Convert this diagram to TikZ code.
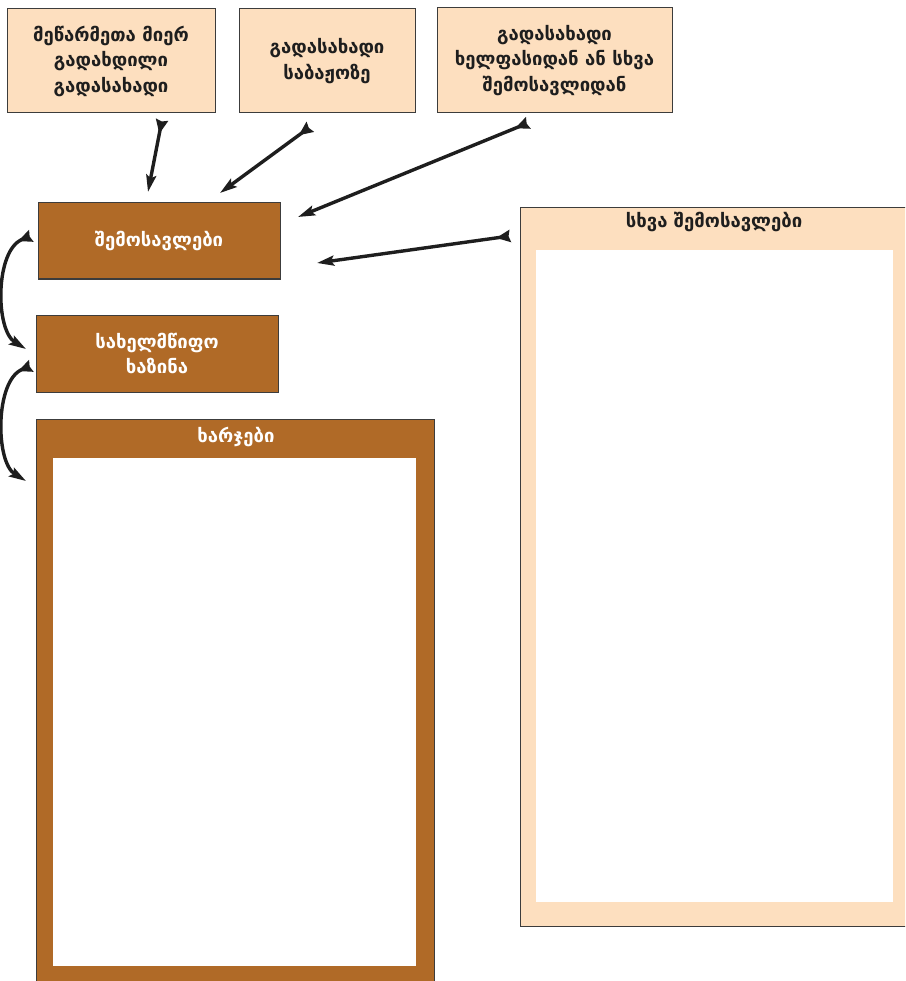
\documentclass[tikz,border=0pt]{standalone}
\usepackage{fontspec}
\setmainfont{DejaVu Sans}
\usetikzlibrary{arrows.meta}
\definecolor{peach}{HTML}{FDDFBF}
\definecolor{brownbox}{HTML}{B06A27}
\definecolor{edge}{HTML}{3C3C3C}
\definecolor{ink}{HTML}{1E1E1E}
\begin{document}
\begin{tikzpicture}[x=1pt,y=-1pt,
  lab/.style={font=\fontsize{18.5}{25.5}\selectfont\bfseries, align=center, inner sep=0pt},
  box/.style={draw=edge, line width=1pt, fill=peach, inner sep=0pt, text=ink, lab},
  dbox/.style={draw=edge, line width=1pt, fill=brownbox, inner sep=0pt, text=white, lab},
  inner/.style={fill=white, inner sep=0pt, draw=none},
  conn/.style={line width=3.4pt, draw=ink,
    arrows={Stealth[reversed,length=14pt,width=12pt,inset=1.5pt]-Stealth[length=17pt,width=10pt,inset=3pt]}}
]
\useasboundingbox (0,0) rectangle (905,981);
\clip (0,0) rectangle (905,981);
\fill[white] (0,0) rectangle (905,981);

% top source boxes
\node[box, minimum width=208pt, minimum height=104pt] (src1) at (111,61)
  {მეწარმეთა მიერ\\გადახდილი\\გადასახადი};
\node[box, minimum width=176pt, minimum height=104pt] (src2) at (327,61)
  {გადასახადი\\საბაჟოზე};
\node[box, minimum width=235pt, minimum height=105pt] (src3) at (554.5,60.5)
  {გადასახადი\\ხელფასიდან ან სხვა\\შემოსავლიდან};

% brown boxes
\node[dbox, minimum width=242pt, minimum height=76pt] (inc) at (159,241) {შემოსავლები};
\node[dbox, minimum width=242pt, minimum height=77pt] (treas) at (157,353.5) {სახელმწიფო\\ხაზინა};

% expenditure frame
\node[dbox, minimum width=398pt, minimum height=571pt, anchor=north west] (exp) at (36,419) {};
\node[inner, minimum width=363pt, minimum height=508pt, anchor=north west] (expin) at (53,458) {};
\node[lab, text=white] (exptitle) at (236,437) {ხარჯები};

% other incomes frame
\node[box, minimum width=395pt, minimum height=719pt, anchor=north west] (oth) at (520,207) {};
\node[inner, minimum width=357pt, minimum height=652pt, anchor=north west] (othin) at (536,250) {};
\node[lab, text=ink] (othtitle) at (714,222) {სხვა შემოსავლები};

% arrow end points
\coordinate (a1s) at (162,120); \coordinate (a1e) at (148,192);
\coordinate (a2s) at (310,127); \coordinate (a2e) at (220,193);
\coordinate (a3s) at (528,123); \coordinate (a3e) at (298,217);
\coordinate (a4s) at (510,236); \coordinate (a4e) at (317,263);
\coordinate (c1s) at (31,236);  \coordinate (c1e) at (26,349);
\coordinate (c2s) at (31,366);  \coordinate (c2e) at (26,481);

\draw[conn] (a1s) -- (a1e);
\draw[conn] (a2s) -- (a2e);
\draw[conn] (a3s) -- (a3e);
\draw[conn] (a4s) -- (a4e);
\draw[conn] (c1s) .. controls (-5,250) and (-5,330) .. (c1e);
\draw[conn] (c2s) .. controls (-5,380) and (-5,462) .. (c2e);
\end{tikzpicture}
\end{document}
